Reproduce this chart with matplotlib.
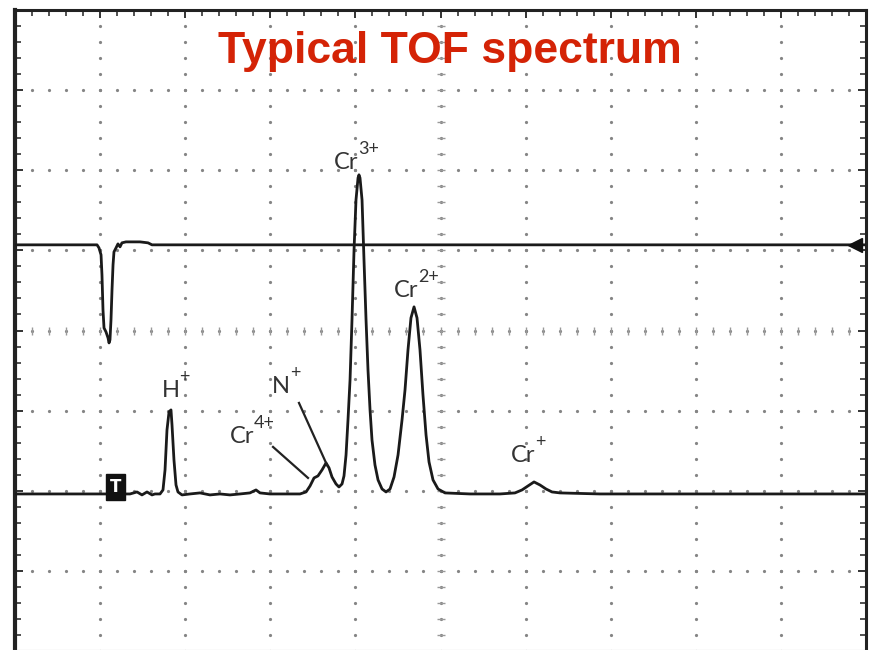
import numpy as np
import matplotlib
matplotlib.use("Agg")
import matplotlib.pyplot as plt

plt.rcParams['font.family'] = ['Lato', 'DejaVu Sans']

# Oscilloscope screen: 10 x 8 divisions, all values below in divisions
N_XDIV, N_YDIV = 10, 8

# Ion signal (channel 2)
ions_t = [0.000, 0.500, 1.000, 1.351, 1.434, 1.492, 1.551, 1.610, 1.645, 1.704,
          1.739, 1.763, 1.786, 1.810, 1.833, 1.845, 1.868, 1.892, 1.915, 1.962,
          2.056, 2.174, 2.291, 2.409, 2.526, 2.644, 2.761, 2.832, 2.879, 2.996,
          3.114, 3.231, 3.349, 3.420, 3.467, 3.514, 3.560, 3.608, 3.655, 3.690,
          3.725, 3.772, 3.807, 3.843, 3.866, 3.890, 3.913, 3.937, 3.960, 3.984,
          4.007, 4.031, 4.042, 4.054, 4.078, 4.101, 4.125, 4.148, 4.172, 4.195,
          4.230, 4.266, 4.313, 4.360, 4.407, 4.454, 4.501, 4.548, 4.583, 4.618,
          4.653, 4.689, 4.724, 4.759, 4.794, 4.830, 4.865, 4.912, 4.971, 5.053,
          5.347, 5.699, 5.875, 5.958, 6.028, 6.099, 6.169, 6.240, 6.310, 6.404,
          6.874, 10.000]
ions_v = [1.960, 1.960, 1.960, 1.960, 1.985, 1.948, 1.985, 1.948, 1.960, 1.960,
          2.010, 2.260, 2.759, 2.984, 3.009, 2.821, 2.385, 2.072, 1.985, 1.948,
          1.960, 1.973, 1.948, 1.960, 1.948, 1.960, 1.973, 2.010, 1.973, 1.960,
          1.960, 1.960, 1.960, 1.985, 2.060, 2.160, 2.185, 2.260, 2.347, 2.285,
          2.172, 2.085, 2.047, 2.085, 2.185, 2.447, 2.884, 3.383, 4.132, 5.006,
          5.630, 5.905, 5.943, 5.905, 5.630, 4.881, 4.132, 3.508, 3.009, 2.634,
          2.322, 2.135, 2.022, 1.985, 2.022, 2.172, 2.447, 2.884, 3.258, 3.758,
          4.157, 4.295, 4.157, 3.758, 3.196, 2.697, 2.360, 2.135, 2.022, 1.973,
          1.960, 1.960, 1.973, 2.010, 2.060, 2.110, 2.072, 2.022, 1.985, 1.973,
          1.960, 1.960]

# Trigger / laser pulse (channel 1)
trig_t = [0.000, 0.964, 0.987, 1.011, 1.022, 1.034, 1.046, 1.069, 1.093, 1.105,
          1.116, 1.128, 1.140, 1.152, 1.163, 1.187, 1.210, 1.234, 1.257, 1.304,
          1.469, 1.563, 1.610, 10.000]
trig_v = [5.069, 5.069, 5.031, 4.944, 4.694, 4.257, 4.032, 3.983, 3.908, 3.845,
          3.883, 4.132, 4.507, 4.819, 4.981, 5.031, 5.081, 5.044, 5.094, 5.106,
          5.106, 5.094, 5.069, 5.069]
trig_level = 5.069
level_marker_t = 9.87

# Peak labels: species, charge, left edge and baseline position
peak_species = ['H', 'N', 'Cr', 'Cr', 'Cr', 'Cr']
peak_charge = ['+', '+', '4+', '3+', '2+', '+']
label_t = [1.727, 3.020, 2.526, 3.749, 4.454, 5.828]
label_v = [3.171, 3.221, 2.597, 6.017, 4.419, 2.360]

# Leader lines from labels to the small peaks
leader_t = [[3.032, 3.443], [3.337, 3.666]]
leader_v = [[2.547, 2.160], [3.096, 2.322]]

# Trigger-point marker
trig_mark_t, trig_mark_v = 1.181, 2.047

fig = plt.figure(figsize=(8.75, 6.5), dpi=100)
ax = fig.add_axes([15 / 875, -1 / 650, 851 / 875, 641 / 650])
ax.set_xlim(0, N_XDIV)
ax.set_ylim(0, N_YDIV)

# dotted graticule
dot_y = np.arange(0, N_YDIV + 0.001, 0.2)
dot_x = np.arange(0, N_XDIV + 0.001, 0.2)
for gx in range(1, N_XDIV):
    ax.plot(np.full(dot_y.size, gx), dot_y, ls='none', marker='o', ms=2.3,
            mec='none', color='#858585', zorder=1)
for gy in range(1, N_YDIV):
    ax.plot(dot_x, np.full(dot_x.size, gy), ls='none', marker='o', ms=2.3,
            mec='none', color='#858585', zorder=1)
# centre axes carry small tick marks
ax.plot(np.full(dot_y.size, N_XDIV / 2), dot_y, ls='none', marker='_', ms=6,
        mew=1.0, color='#9a9a9a', zorder=1)
ax.plot(dot_x, np.full(dot_x.size, N_YDIV / 2), ls='none', marker='|', ms=6,
        mew=1.0, color='#9a9a9a', zorder=1)

# frame ticks
ax.set_xticks(np.arange(0, N_XDIV + 0.001, 1))
ax.set_yticks(np.arange(0, N_YDIV + 0.001, 1))
ax.set_xticks(dot_x, minor=True)
ax.set_yticks(dot_y, minor=True)
ax.tick_params(which='both', direction='in', top=True, right=True,
               labelbottom=False, labelleft=False, color='#333333')
ax.tick_params(which='major', length=6, width=1.4)
ax.tick_params(which='minor', length=4, width=1.2)
ax.tick_params(axis='x', which='both', bottom=False)
for side, lw, col in (('left', 3.0, '#222222'), ('top', 2.2, '#222222'),
                      ('right', 2.2, '#222222'), ('bottom', 1.5, '#9a9a9a')):
    ax.spines[side].set_linewidth(lw)
    ax.spines[side].set_color(col)

# traces
ax.plot(trig_t, trig_v, color='#1a1a1a', lw=2.0, solid_joinstyle='round', zorder=3)
ax.plot(ions_t, ions_v, color='#1a1a1a', lw=2.0, solid_joinstyle='round', zorder=3)
ax.plot(level_marker_t, trig_level, marker='<', ms=10, color='#111111',
        mec='#111111', zorder=4)

# trigger marker "T"
ax.text(trig_mark_t, trig_mark_v, 'T', ha='center', va='center', color='white',
        fontsize=12, fontweight='bold', family=['DejaVu Sans'], zorder=5,
        bbox=dict(boxstyle='square,pad=0.22', fc='#111111', ec='#111111'))

# peak labels (species + superscript charge) and leaders
for sp, ch, tx, ty in zip(peak_species, peak_charge, label_t, label_v):
    base = ax.text(tx, ty, sp, ha='left', va='baseline', fontsize=17,
                   color='#333333', zorder=5)
    ax.annotate(ch, xy=(0.98, 0.9), xycoords=base, xytext=(0, 0),
                textcoords='offset points', ha='left', va='baseline',
                fontsize=13, color='#333333', zorder=5)
for lt, lv in zip(leader_t, leader_v):
    ax.plot(lt, lv, color='#222222', lw=1.6, zorder=4)

fig.text(450 / 875, 1 - 52 / 650, 'Typical TOF spectrum', ha='center', va='center',
         fontsize=32, fontweight='bold', color='#D42306',
         family=['Liberation Sans', 'DejaVu Sans'])

fig.savefig('out.png', dpi=100, facecolor='white')
